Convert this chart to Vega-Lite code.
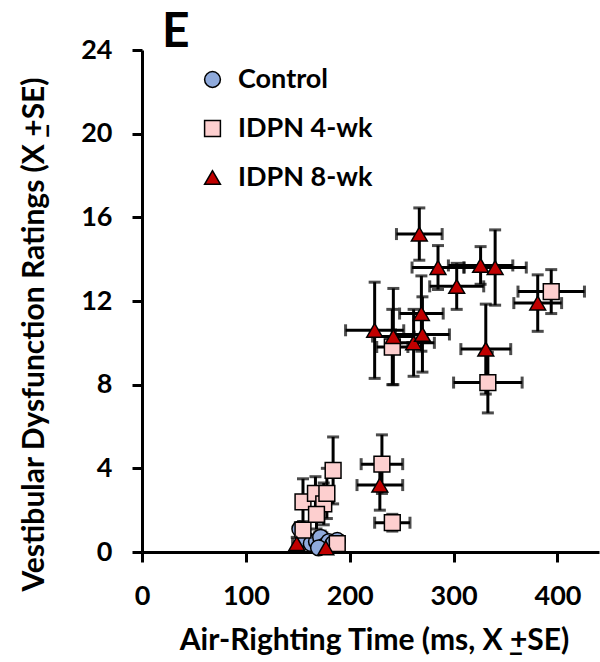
{
  "$schema": "https://vega.github.io/schema/vega-lite/v6.json",
  "width": 457,
  "height": 502,
  "autosize": {"type": "none"},
  "padding": {"left": 142, "top": 50, "right": 1, "bottom": 110},
  "config": {"font": "Lato", "view": {"stroke": null}},
  "title": {"text": "E", "anchor": "start", "frame": "group", "fontSize": 48, "fontWeight": "bold", "color": "black", "font": "Lato", "dx": 20, "dy": 61, "offset": 2, "baseline": "alphabetic"},
  "data": {"values": [
    {"group": "Control", "x": 152, "y": 1.1, "ex": 4, "ey": 0.3},
    {"group": "Control", "x": 158, "y": 0.6, "ex": 5, "ey": 0.2},
    {"group": "Control", "x": 163, "y": 0.4, "ex": 5, "ey": 0.2},
    {"group": "Control", "x": 168, "y": 0.5, "ex": 4, "ey": 0.2},
    {"group": "Control", "x": 172, "y": 0.7, "ex": 6, "ey": 0.3},
    {"group": "Control", "x": 176, "y": 0.3, "ex": 5, "ey": 0.2},
    {"group": "Control", "x": 180, "y": 0.5, "ex": 5, "ey": 0.2},
    {"group": "Control", "x": 184, "y": 0.4, "ex": 4, "ey": 0.2},
    {"group": "Control", "x": 188, "y": 0.55, "ex": 5, "ey": 0.2},
    {"group": "Control", "x": 170, "y": 0.2, "ex": 4, "ey": 0.2},
    {"group": "IDPN 4-wk", "x": 155, "y": 2.4, "ex": 4, "ey": 1.1},
    {"group": "IDPN 4-wk", "x": 155, "y": 1.05, "ex": 4, "ey": 0.4},
    {"group": "IDPN 4-wk", "x": 167, "y": 2.8, "ex": 5, "ey": 0.8},
    {"group": "IDPN 4-wk", "x": 175, "y": 2.3, "ex": 5, "ey": 1.0},
    {"group": "IDPN 4-wk", "x": 168, "y": 1.8, "ex": 4, "ey": 0.7},
    {"group": "IDPN 4-wk", "x": 178, "y": 2.8, "ex": 5, "ey": 1.2},
    {"group": "IDPN 4-wk", "x": 184, "y": 3.9, "ex": 6, "ey": 1.6},
    {"group": "IDPN 4-wk", "x": 188, "y": 0.4, "ex": 4, "ey": 0.3},
    {"group": "IDPN 4-wk", "x": 231, "y": 4.2, "ex": 20, "ey": 1.4},
    {"group": "IDPN 4-wk", "x": 241, "y": 1.4, "ex": 17, "ey": 0.4},
    {"group": "IDPN 4-wk", "x": 241, "y": 9.8, "ex": 15, "ey": 1.8},
    {"group": "IDPN 4-wk", "x": 333, "y": 8.1, "ex": 33, "ey": 1.45},
    {"group": "IDPN 4-wk", "x": 394, "y": 12.45, "ex": 32, "ey": 1.05},
    {"group": "IDPN 8-wk", "x": 149, "y": 0.4, "ex": 4, "ey": 0.3},
    {"group": "IDPN 8-wk", "x": 177, "y": 0.2, "ex": 5, "ey": 0.2},
    {"group": "IDPN 8-wk", "x": 229, "y": 3.2, "ex": 22, "ey": 1.2},
    {"group": "IDPN 8-wk", "x": 224, "y": 10.6, "ex": 28, "ey": 2.3},
    {"group": "IDPN 8-wk", "x": 242, "y": 10.3, "ex": 20, "ey": 2.3},
    {"group": "IDPN 8-wk", "x": 261.5, "y": 10.0, "ex": 20, "ey": 1.6},
    {"group": "IDPN 8-wk", "x": 269, "y": 11.4, "ex": 21, "ey": 1.8},
    {"group": "IDPN 8-wk", "x": 270, "y": 10.4, "ex": 26, "ey": 1.8},
    {"group": "IDPN 8-wk", "x": 267, "y": 15.2, "ex": 22, "ey": 1.25},
    {"group": "IDPN 8-wk", "x": 285, "y": 13.6, "ex": 25, "ey": 1.05},
    {"group": "IDPN 8-wk", "x": 303, "y": 12.7, "ex": 26, "ey": 1.1},
    {"group": "IDPN 8-wk", "x": 326, "y": 13.7, "ex": 31, "ey": 0.9},
    {"group": "IDPN 8-wk", "x": 340, "y": 13.6, "ex": 30, "ey": 1.8},
    {"group": "IDPN 8-wk", "x": 381, "y": 11.9, "ex": 23, "ey": 1.35},
    {"group": "IDPN 8-wk", "x": 331, "y": 9.7, "ex": 24, "ey": 2.15}
  ]},
  "encoding": {
    "x": {"field": "x", "type": "quantitative",
      "scale": {"domain": [0, 440], "nice": false, "zero": false},
      "axis": {"title": "Air-Righting Time (ms, X \u0332+SE)", "values": [0, 100, 200, 300, 400], "grid": false,
        "domainColor": "black", "domainWidth": 3, "tickColor": "black", "tickWidth": 3, "tickSize": 10,
        "labelFontSize": 27, "labelFontWeight": "bold", "labelColor": "black", "labelPadding": 34, "labelBaseline": "middle", "labelFlush": false,
        "titleFontSize": 30, "titleFontWeight": "bold", "titleColor": "black", "titleX": 232, "titleY": 88, "titleBaseline": "middle", "titleAlign": "center"}},
    "y": {"field": "y", "type": "quantitative",
      "scale": {"domain": [0, 24], "nice": false},
      "axis": {"title": "Vestibular Dysfunction Ratings (X \u0332+SE)", "values": [0, 4, 8, 12, 16, 20, 24], "grid": false,
        "domainColor": "black", "domainWidth": 3, "tickColor": "black", "tickWidth": 3, "tickSize": 10,
        "labelFontSize": 27, "labelFontWeight": "bold", "labelColor": "black", "labelPadding": 20,
        "titleFontSize": 30, "titleFontWeight": "bold", "titleColor": "black", "titleX": -108, "titleY": 284, "titleAngle": 270, "titleAlign": "center", "titleBaseline": "middle"}}
  },
  "layer": [
    {"mark": {"type": "errorbar", "ticks": true, "size": 12, "thickness": 3, "color": "black"},
     "encoding": {"xError": {"field": "ex"}}},
    {"mark": {"type": "errorbar", "ticks": true, "size": 12, "thickness": 3, "color": "black"},
     "encoding": {"yError": {"field": "ey"}}},
    {"mark": {"type": "point", "filled": true, "stroke": "black", "strokeWidth": 1.5, "opacity": 1},
     "encoding": {
       "shape": {"field": "group", "type": "nominal",
         "scale": {"domain": ["Control", "IDPN 4-wk", "IDPN 8-wk"], "range": ["circle", "square", "triangle-up"]},
         "legend": {"title": null, "orient": "none", "legendX": 57, "legendY": 16, "labelFontSize": 27, "labelFontWeight": "bold", "labelColor": "black", "symbolSize": 250, "rowPadding": 21, "labelOffset": 12,
           "encode": {"symbols": {"update": {"stroke": {"value": "black"}, "strokeWidth": {"value": 1.5}, "opacity": {"value": 1}}}}}},
       "fill": {"field": "group", "type": "nominal",
         "scale": {"domain": ["Control", "IDPN 4-wk", "IDPN 8-wk"], "range": ["#8faadc", "#fdcfcf", "#c00000"]},
         "legend": {"title": null, "orient": "none", "legendX": 57, "legendY": 16, "labelFontSize": 27, "labelFontWeight": "bold", "labelColor": "black", "symbolSize": 250, "rowPadding": 21, "labelOffset": 12,
           "encode": {"symbols": {"update": {"stroke": {"value": "black"}, "strokeWidth": {"value": 1.5}, "opacity": {"value": 1}}}}}},
       "size": {"value": 250}
     }}
  ]
}
